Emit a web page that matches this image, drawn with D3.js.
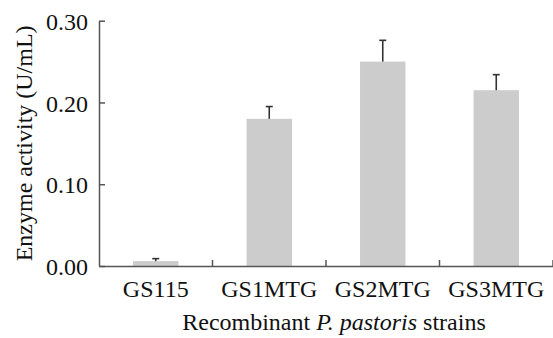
<!DOCTYPE html>
<html>
<head>
<meta charset="utf-8">
<script src="https://cdn.jsdelivr.net/npm/d3@7"></script>
<style>
  body { margin: 0; background: #fff; }
  text { font-family: "Liberation Serif", "Times New Roman", serif; fill: #111; }
</style>
</head>
<body>
<div id="chart"></div>
<script>
// data
var strains = ["GS115", "GS1MTG", "GS2MTG", "GS3MTG"];
var activity = [0.006, 0.180, 0.250, 0.215];
var errors = [0.003, 0.015, 0.026, 0.019];
var yTicks = [0, 0.1, 0.2, 0.3];

var svgWidth = 553;
var svgHeight = 338;
var fontSize = "24px";

var margin = { top: 20.7, right: 0, bottom: 72, left: 99 };
var width = svgWidth - margin.left - margin.right;
var height = 266 - margin.top;

var svg = d3.select("#chart")
  .append("svg")
  .attr("width", svgWidth)
  .attr("height", svgHeight);

var chartGroup = svg.append("g")
  .attr("transform", `translate(${margin.left}, ${margin.top})`);

// scales
var xScale = d3.scaleBand()
  .domain(strains)
  .range([0, width])
  .paddingInner(0.6)
  .paddingOuter(0.3);

var yScale = d3.scaleLinear()
  .domain([0, 0.3])
  .range([height, 0]);

// bars
chartGroup.selectAll("rect.bar")
  .data(strains)
  .enter()
  .append("rect")
  .attr("class", "bar")
  .attr("x", d => xScale(d))
  .attr("width", xScale.bandwidth())
  .attr("y", (d, i) => yScale(activity[i]))
  .attr("height", (d, i) => height - yScale(activity[i]))
  .attr("fill", "#cccccc");

// error bars (upper half only, like the original)
var errGroup = chartGroup.selectAll("g.err")
  .data(strains)
  .enter()
  .append("g")
  .attr("class", "err")
  .attr("stroke", "#333")
  .attr("stroke-width", 1.6);

errGroup.append("line")
  .attr("x1", d => xScale(d) + xScale.bandwidth() / 2)
  .attr("x2", d => xScale(d) + xScale.bandwidth() / 2)
  .attr("y1", (d, i) => yScale(activity[i]))
  .attr("y2", (d, i) => yScale(activity[i] + errors[i]));

errGroup.append("line")
  .attr("x1", d => xScale(d) + xScale.bandwidth() / 2 - 3.5)
  .attr("x2", d => xScale(d) + xScale.bandwidth() / 2 + 3.5)
  .attr("y1", (d, i) => yScale(activity[i] + errors[i]))
  .attr("y2", (d, i) => yScale(activity[i] + errors[i]));

// y axis
var leftAxis = d3.axisLeft(yScale)
  .tickValues(yTicks)
  .tickFormat(d3.format(".2f"))
  .tickSizeInner(-6)
  .tickSizeOuter(0)
  .tickPadding(11);

var yAxisG = chartGroup.append("g").call(leftAxis);
yAxisG.select(".domain").attr("stroke", "#555").attr("stroke-width", 1.5);
yAxisG.selectAll(".tick line").attr("stroke", "#555").attr("stroke-width", 1.5);
yAxisG.selectAll(".tick text")
  .attr("font-family", null)
  .attr("font-size", fontSize)
  .attr("dy", "0.36em");

// x axis
var bottomAxis = d3.axisBottom(xScale)
  .tickSize(0)
  .tickPadding(14);

var xAxisG = chartGroup.append("g")
  .attr("transform", `translate(0, ${height})`)
  .call(bottomAxis);
xAxisG.select(".domain").attr("stroke", "#555").attr("stroke-width", 1.5);
xAxisG.selectAll(".tick text")
  .attr("font-family", null)
  .attr("font-size", fontSize);

// category separator ticks pointing up
var gap = xScale.step() - xScale.bandwidth();
xAxisG.selectAll("line.sep")
  .data(strains)
  .enter()
  .append("line")
  .attr("class", "sep")
  .attr("x1", d => xScale(d) + xScale.bandwidth() + gap / 2)
  .attr("x2", d => xScale(d) + xScale.bandwidth() + gap / 2)
  .attr("y1", 0)
  .attr("y2", -6)
  .attr("stroke", "#555")
  .attr("stroke-width", 1.5);

// axis titles
chartGroup.append("text")
  .attr("transform", "rotate(-90)")
  .attr("x", 0 - height / 2)
  .attr("y", 32 - margin.left)
  .attr("text-anchor", "middle")
  .attr("font-size", fontSize)
  .text("Enzyme activity (U/mL)");

var xTitle = chartGroup.append("text")
  .attr("x", 334 - margin.left)
  .attr("y", 330 - margin.top)
  .attr("text-anchor", "middle")
  .attr("font-size", fontSize);
xTitle.append("tspan").text("Recombinant ");
xTitle.append("tspan").attr("font-style", "italic").text("P. pastoris");
xTitle.append("tspan").text(" strains");
</script>
</body>
</html>
